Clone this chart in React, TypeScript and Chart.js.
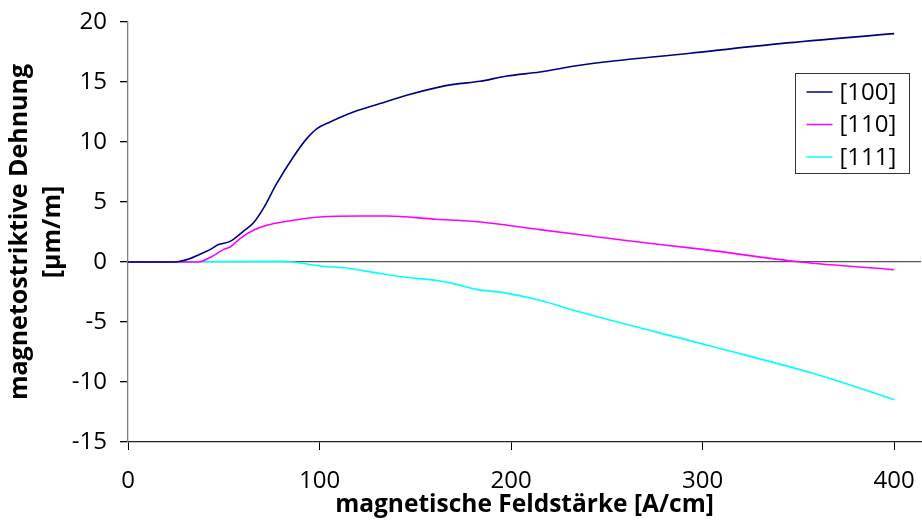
import React, { useEffect, useRef } from "react";
import { Chart, registerables } from "chart.js";

Chart.register(...registerables);

// Magnetic field strength H [A/cm] and magnetostrictive strain [µm/m] per crystal direction
const field100 = [0, 23.7, 42.8, 47.2, 53.3, 60.2, 65.4, 70.6, 77.6, 86.3, 93.3, 98.5, 105.5, 117.7, 131.6, 145.5, 161.2, 169.9, 183.8, 197.8, 215, 236, 293.5, 340.5, 400];
const strain100 = [0, 0, 1.03, 1.45, 1.72, 2.56, 3.25, 4.45, 6.53, 8.75, 10.28, 11.1, 11.67, 12.5, 13.2, 13.9, 14.53, 14.8, 15.06, 15.5, 15.83, 16.4, 17.4, 18.2, 19.03];

const field110 = [0, 36.7, 42.8, 49.8, 53.3, 58.5, 65.4, 72.4, 82.9, 100.3, 121, 135, 161, 180, 215, 259, 300, 351, 400];
const strain110 = [0, 0, 0.37, 1.03, 1.25, 1.95, 2.64, 3.06, 3.39, 3.75, 3.83, 3.83, 3.56, 3.39, 2.7, 1.81, 1.05, 0.0, -0.64];

const field111 = [0, 79, 86, 100, 114, 132, 144, 163, 170, 182, 196, 215, 236, 306, 358, 400];
const strain111 = [0, 0.05, 0, -0.33, -0.5, -0.97, -1.25, -1.58, -1.8, -2.28, -2.55, -3.19, -4.17, -7.08, -9.3, -11.47];

const seriesLabels = ["[100]", "[110]", "[111]"];
const seriesColors = ["#000080", "#ff00ff", "#00ffff"];

const xTitle = "magnetische Feldstärke [A/cm]";
const yTitle = ["magnetostriktive Dehnung", "[µm/m]"];

const FONT = "'Open Sans', 'DejaVu Sans', sans-serif";

const toPoints = (xs: number[], ys: number[]) => xs.map((x, i) => ({ x, y: ys[i] }));

// Boxed legend drawn inside the plot area, right side
const boxLegend = {
  id: "boxLegend",
  afterDraw(chart: any) {
    const { ctx } = chart;
    const left = 795.5;
    const top = 73.5;
    const w = 114;
    const h = 100;
    ctx.save();
    ctx.fillStyle = "#ffffff";
    ctx.fillRect(left, top, w, h);
    ctx.strokeStyle = "#333333";
    ctx.lineWidth = 1;
    ctx.strokeRect(left, top, w, h);
    ctx.font = `24px ${FONT}`;
    ctx.textBaseline = "middle";
    ctx.textAlign = "left";
    chart.data.datasets.forEach((ds: any, i: number) => {
      const y = top + 18.5 + i * 32.5;
      ctx.strokeStyle = ds.borderColor;
      ctx.lineWidth = 1.5;
      ctx.beginPath();
      ctx.moveTo(left + 11, y);
      ctx.lineTo(left + 37, y);
      ctx.stroke();
      ctx.fillStyle = "#000000";
      ctx.fillText(ds.label, left + 44, y + 1);
    });
    ctx.restore();
  },
};

export default function App() {
  const canvasRef = useRef<HTMLCanvasElement | null>(null);

  useEffect(() => {
    if (!canvasRef.current) return;
    const chart = new Chart(canvasRef.current, {
      type: "line",
      data: {
        datasets: [
          { label: seriesLabels[0], data: toPoints(field100, strain100) },
          { label: seriesLabels[1], data: toPoints(field110, strain110) },
          { label: seriesLabels[2], data: toPoints(field111, strain111) },
        ].map((d, i) => ({
          ...d,
          borderColor: seriesColors[i],
          backgroundColor: seriesColors[i],
          borderWidth: 1.6,
          pointRadius: 0,
          fill: false,
          cubicInterpolationMode: "monotone" as const,
        })),
      },
      options: {
        responsive: false,
        animation: false,
        devicePixelRatio: 1,
        layout: { padding: { top: 22, right: 1, left: 0, bottom: 0 } },
        plugins: {
          legend: { display: false },
          tooltip: { enabled: false },
        },
        scales: {
          x: {
            type: "linear",
            position: "bottom",
            min: 0,
            max: 414,
            border: { display: true, color: "#222222", width: 1.3 },
            grid: {
              drawOnChartArea: false,
              color: "#000000",
              tickColor: "#000000",
              tickLength: 8,
            },
            ticks: {
              stepSize: 100,
              includeBounds: false,
              color: "#000000",
              padding: 17,
              font: { family: FONT, size: 24 },
              maxRotation: 0,
            },
            title: {
              display: true,
              text: xTitle,
              color: "#000000",
              font: { family: FONT, size: 24.5, weight: "bold" },
              padding: { top: 0, bottom: 3 },
            },
            afterFit: (scale: any) => {
              scale.height = 81;
              scale.paddingLeft = 0;
              scale.paddingRight = 0;
            },
          },
          y: {
            type: "linear",
            min: -15,
            max: 20,
            border: { display: true, color: "#808080", width: 1.3 },
            grid: {
              color: (c: any) => (c.tick && c.tick.value === 0 ? "#555555" : "rgba(0,0,0,0)"),
              lineWidth: 1.3,
              tickColor: "#000000",
              tickLength: 8,
            },
            ticks: {
              stepSize: 5,
              color: "#000000",
              padding: 13,
              font: { family: FONT, size: 24 },
            },
            title: {
              display: true,
              text: yTitle,
              color: "#000000",
              font: { family: FONT, size: 25, weight: "bold", lineHeight: 1.3 },
              padding: { top: 4, bottom: 0 },
            },
            afterFit: (scale: any) => {
              scale.width = 128;
              scale.paddingTop = 0;
              scale.paddingBottom = 0;
            },
          },
        },
      },
      plugins: [boxLegend],
    });
    return () => chart.destroy();
  }, []);

  return (
    <div style={{ position: "absolute", left: 0, top: 0, width: 922, height: 523, background: "#ffffff" }}>
      <canvas ref={canvasRef} width={922} height={523} />
    </div>
  );
}
